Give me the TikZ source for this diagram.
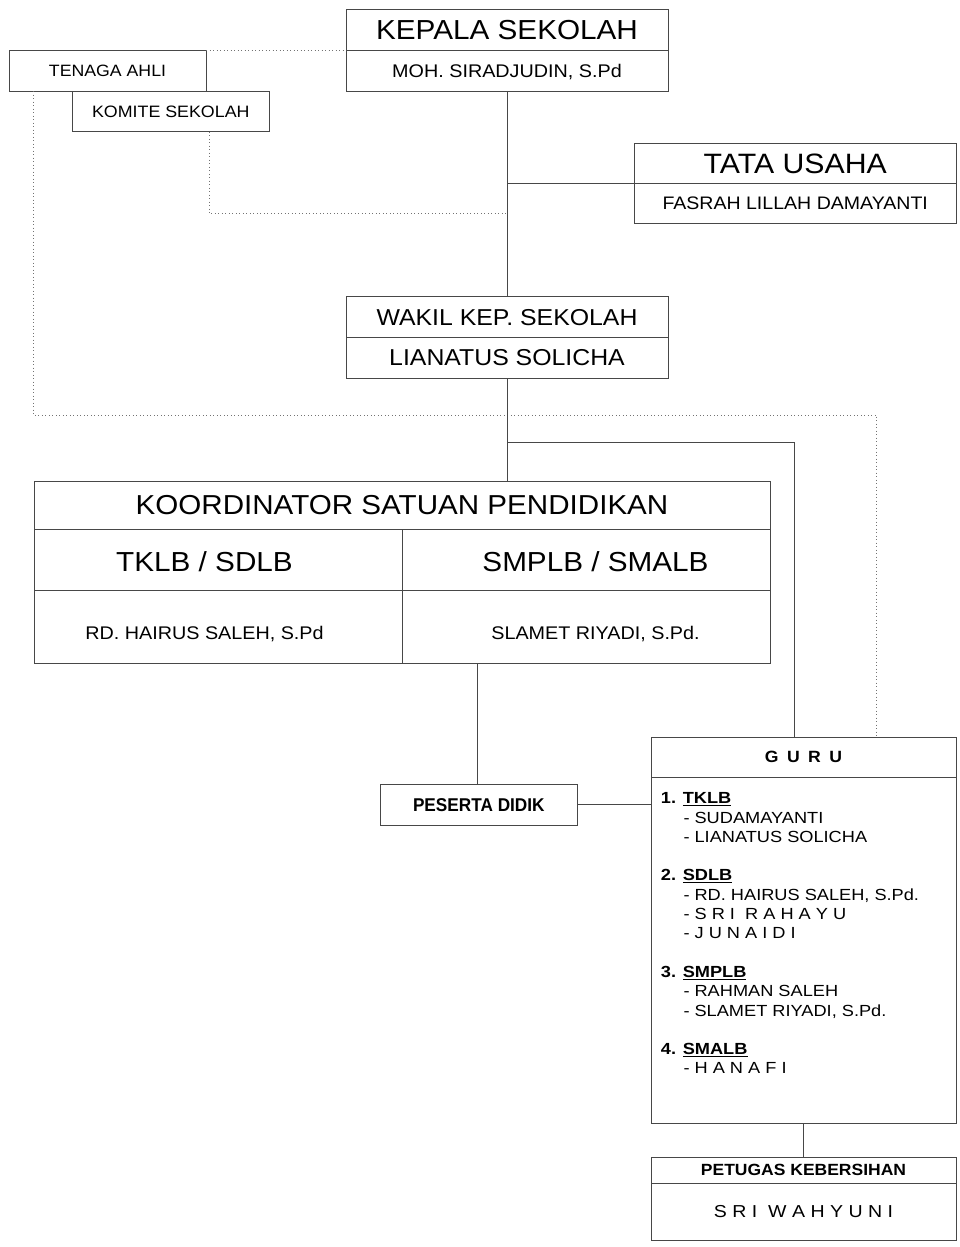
\documentclass[tikz,border=0pt]{standalone}
\usepackage{fontspec}
\setmainfont[FakeStretch=1.08]{Liberation Sans}
\newfontfamily\listfont[FakeStretch=1.13]{Liberation Sans}
\newfontfamily\narrowfont[FakeStretch=0.93]{Liberation Sans}
\usetikzlibrary{positioning}
\newcommand{\setfs}[1]{\fontsize{#1}{#1}\selectfont}
\tikzset{
  box/.style={draw=black!72, line width=0.9pt, inner sep=0pt, outer sep=0pt, text depth=0pt, minimum width=322pt, minimum height=41pt},
  celltext/.style={inner sep=0pt, text depth=0pt},
  link/.style={draw=black!72, line width=0.9pt},
  dot/.style={draw=black!55, line width=0.9pt, dash pattern=on 0.9pt off 2.6pt},
}
\begin{document}
\begin{tikzpicture}[x=1pt,y=-1pt]
    \useasboundingbox (0,0) rectangle (960,1247);
    \node[box, font=\setfs{27.5}] (kepala) at (507,29.5) {KEPALA SEKOLAH};
    \node[box, below=0pt of kepala, font=\setfs{18.3}] (kepalaname) {MOH. SIRADJUDIN, S.Pd};
    \node[box, minimum width=197pt, font=\setfs{16.4}] (tenaga) at (107.5,70.5) {TENAGA AHLI};
    \node[box, minimum width=197.7pt, minimum height=40.7pt, font=\setfs{16.5}] (komite) at (170.8,111.3) {KOMITE SEKOLAH};
    \node[box, minimum width=321.7pt, minimum height=40pt, font=\setfs{28}] (tata) at (795.2,163.3) {TATA USAHA};
    \node[box, minimum width=321.7pt, minimum height=40pt, below=0pt of tata, font=\setfs{18.1}] (tataname) {FASRAH LILLAH DAMAYANTI};
    \node[box, minimum height=40.6pt, font=\setfs{23}] (wakil) at (507,317) {WAKIL KEP. SEKOLAH};
    \node[box, below=0pt of wakil, font=\setfs{23}] (wakilname) {LIANATUS SOLICHA};

    \node[box, minimum width=736pt, minimum height=47.3pt, font=\setfs{27.4}] (koord) at (402,505.3) {KOORDINATOR SATUAN PENDIDIKAN};
    \node[box, minimum width=368pt, minimum height=61pt, anchor=north west] (tkhead) at (koord.south west) {};
    \node[box, minimum width=368pt, minimum height=61pt, anchor=north west] (smphead) at (tkhead.north east) {};
    \node[box, minimum width=368pt, minimum height=73pt, anchor=north west] (tkname) at (tkhead.south west) {};
    \node[box, minimum width=368pt, minimum height=73pt, anchor=north west] (smpname) at (tkname.north east) {};
    \node[celltext, font=\setfs{27.5}] (tkheadtext) at (204.5,562) {TKLB / SDLB};
    \node[celltext, font=\setfs{27.5}] (smpheadtext) at (595.5,562) {SMPLB / SMALB};
    \node[celltext, font=\setfs{18.3}] (tknametext) at (204.5,633) {RD. HAIRUS SALEH, S.Pd};
    \node[celltext, font=\setfs{18.3}] (smpnametext) at (595.5,633) {SLAMET RIYADI, S.Pd.};

    \node[box, minimum width=197.7pt, minimum height=40.7pt, font=\narrowfont\bfseries\setfs{18.5}] (peserta) at (478.8,804.7) {PESERTA DIDIK};

    \node[box, minimum width=305pt, minimum height=40pt, font=\bfseries\setfs{16.3}] (guru) at (803.5,757) {G\hspace{8.4pt}U\hspace{8.4pt}R\hspace{8.4pt}U};
    \node[box, minimum width=305pt, minimum height=346pt, below=0pt of guru] (gurubody) {};
    \node[anchor=north west, inner sep=0pt, align=left, font=\listfont\fontsize{16.1}{19.3}\selectfont] (gurulist) at (660.7,792.5) {%
        \textbf{1. \underline{TKLB}}\\
        \hspace*{22.6pt}- SUDAMAYANTI\\
        \hspace*{22.6pt}- LIANATUS SOLICHA\\[19.3pt]
        \textbf{2. \underline{SDLB}}\\
        \hspace*{22.6pt}- RD. HAIRUS SALEH, S.Pd.\\
        \hspace*{22.6pt}- S R I\ \ R A H A Y U\\
        \hspace*{22.6pt}- J U N A I D I\\[19.3pt]
        \textbf{3. \underline{SMPLB}}\\
        \hspace*{22.6pt}- RAHMAN SALEH\\
        \hspace*{22.6pt}- SLAMET RIYADI, S.Pd.\\[19.3pt]
        \textbf{4. \underline{SMALB}}\\
        \hspace*{22.6pt}- H A N A F I};

    \node[box, minimum width=305pt, minimum height=26pt, font=\bfseries\setfs{16.2}] (petugas) at (803.5,1170) {PETUGAS KEBERSIHAN};
    \node[box, minimum width=305pt, minimum height=57pt, below=0pt of petugas, font=\listfont\setfs{17.3}] (petugasname) {S R I\ \ W A H Y U N I};

    \coordinate (komitejoin) at (507,213.3);
    \coordinate (dotturn) at (876.7,415);
    \coordinate (gurujoin) at (794.3,442.3);
    \draw[link] (kepalaname.south) -- (wakil.north);
    \draw[link] (tata.south west) -- (tata.south west -| kepalaname.south);
    \draw[dot] (tenaga.north east) -- (kepalaname.north west);
    \draw[dot] ([xshift=38.2pt]komite.south) |- (komitejoin);
    \draw[dot] ([xshift=24.3pt]tenaga.south west) |- (dotturn) -- (dotturn |- guru.north);
    \draw[link] (wakilname.south) -- (wakilname.south |- koord.north);
    \draw[link] (wakilname.south |- gurujoin) -- (gurujoin) -- (gurujoin |- guru.north);
    \draw[link] ([xshift=-1.8pt]peserta.north) -- ([xshift=-1.8pt]peserta.north |- tkname.south);
    \draw[link] (peserta.east) -- (peserta.east -| gurubody.west);
    \draw[link] (gurubody.south) -- (petugas.north);
\end{tikzpicture}
\end{document}
